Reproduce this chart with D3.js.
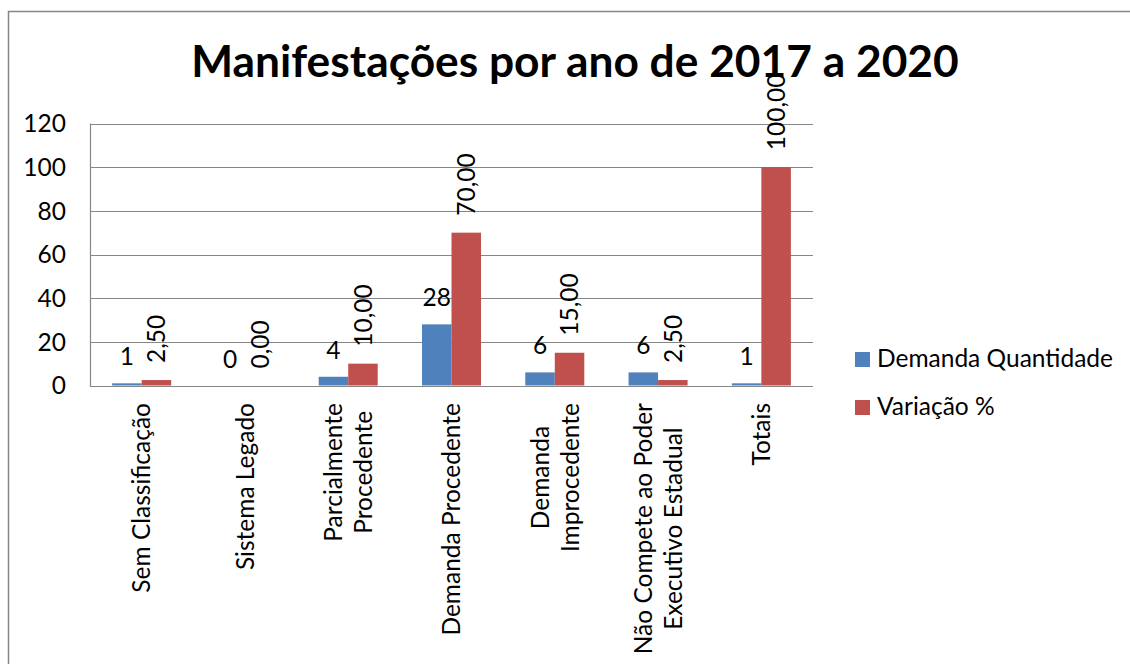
<!DOCTYPE html>
<html>
<head>
<meta charset="utf-8">
<script src="https://cdn.jsdelivr.net/npm/d3@7"></script>
<style>
  html, body { margin: 0; padding: 0; background: #fff; }
  svg { display: block; }
  text { font-family: Lato, "Open Sans", sans-serif; fill: #000; }
</style>
</head>
<body>
<svg id="chart" width="1130" height="664"></svg>
<script>
// Categories (multi-line labels split on "|")
const categories = [
  'Sem Classificação',
  'Sistema Legado',
  'Parcialmente|Procedente',
  'Demanda Procedente',
  'Demanda|Improcedente',
  'Não Compete ao Poder|Executivo Estadual',
  'Totais',
];
const seriesNames = ['Demanda Quantidade', 'Variação %'];
const quantidade = [1, 0, 4, 28, 6, 6, 1];
const variacao = [2.5, 0, 10, 70, 15, 2.5, 100];
const yTicks = [0, 20, 40, 60, 80, 100, 120];
const colors = ['#4F81BD', '#C0504D'];

const fontSize = '24.5px';
const svg = d3.select('#chart');

// Outer chart border
svg.append('rect')
  .attr('x', 8.5).attr('y', 11.5)
  .attr('width', 1140).attr('height', 700)
  .attr('fill', 'none')
  .attr('stroke', '#868686')
  .attr('stroke-width', 1.5);

// Title
svg.append('text')
  .attr('x', 575).attr('y', 77)
  .attr('text-anchor', 'middle')
  .style('font-weight', 'bold')
  .style('font-size', '44.3px')
  .text('Manifestações por ano de 2017 a 2020');

const plot = { left: 90, right: 813, top: 123.5, bottom: 385.5 };

const y = d3.scaleLinear().domain([0, 120]).range([plot.bottom, plot.top]);
const x0 = d3.scaleBand().domain(categories).range([plot.left, plot.right]).padding(0);
const bw = x0.bandwidth();
const gap = bw * 0.75 / 3.5;
const x1 = d3.scaleBand().domain(seriesNames).range([gap, bw - gap]).padding(0);

// Gridlines
svg.append('g')
  .selectAll('line')
  .data(yTicks)
  .join('line')
  .attr('x1', plot.left).attr('x2', plot.right)
  .attr('y1', d => Math.round(y(d)) + 0.5)
  .attr('y2', d => Math.round(y(d)) + 0.5)
  .attr('stroke', '#868686')
  .attr('stroke-width', 1.2);

// Y axis line
svg.append('line')
  .attr('x1', plot.left + 0.5).attr('x2', plot.left + 0.5)
  .attr('y1', plot.top).attr('y2', plot.bottom + 1)
  .attr('stroke', '#868686')
  .attr('stroke-width', 1.2);

// Y tick labels
svg.append('g')
  .selectAll('text')
  .data(yTicks)
  .join('text')
  .attr('x', 66)
  .attr('y', d => y(d))
  .attr('dy', '0.36em')
  .attr('text-anchor', 'end')
  .style('font-size', fontSize)
  .text(d => d);

const rows = categories.map((c, i) => ({ cat: c, vals: [quantidade[i], variacao[i]] }));

// Bars
const groups = svg.append('g')
  .selectAll('g')
  .data(rows)
  .join('g')
  .attr('transform', d => `translate(${x0(d.cat)},0)`);

groups.selectAll('rect')
  .data(d => d.vals.map((v, k) => ({ v, k })))
  .join('rect')
  .attr('x', d => x1(seriesNames[d.k]))
  .attr('y', d => y(d.v))
  .attr('width', x1.bandwidth())
  .attr('height', d => y(0) - y(d.v))
  .attr('fill', d => colors[d.k]);

// Blue data labels (horizontal)
groups.append('text')
  .attr('x', x1(seriesNames[0]) + x1.bandwidth() / 2)
  .attr('y', d => y(d.vals[0]) - 18)
  .attr('text-anchor', 'middle')
  .style('font-size', fontSize)
  .text(d => d.vals[0]);

// Red data labels (rotated)
const fmt = v => v.toFixed(2).replace('.', ',');
groups.append('text')
  .attr('transform', d => `translate(${x1(seriesNames[1]) + x1.bandwidth() / 2},${y(d.vals[1]) - 17}) rotate(-90)`)
  .attr('dy', '0.36em')
  .attr('text-anchor', 'start')
  .style('font-size', fontSize)
  .text(d => fmt(d.vals[1]));

// Category labels (rotated, lines centred on each other, top-aligned)
const labelTop = 403;
const lineGap = 30;
categories.forEach((c) => {
  const lines = c.split('|');
  const cx = x0(c) + bw / 2;
  const g = svg.append('g');
  const texts = lines.map(ln => g.append('text')
    .style('font-size', fontSize)
    .attr('text-anchor', 'middle')
    .text(ln));
  const maxLen = d3.max(texts, t => t.node().getComputedTextLength());
  const cy = labelTop + maxLen / 2;
  texts.forEach((t, j) => {
    const off = (j - (lines.length - 1) / 2) * lineGap;
    t.attr('transform', `translate(${cx + off},${cy}) rotate(-90)`)
      .attr('dy', '0.36em');
  });
});

// Legend
const legend = svg.append('g')
  .selectAll('g')
  .data(seriesNames)
  .join('g')
  .attr('transform', (d, i) => `translate(855,${352 + i * 48})`);

legend.append('rect')
  .attr('width', 15).attr('height', 15)
  .attr('fill', (d, i) => colors[i]);

legend.append('text')
  .attr('x', 22).attr('y', 15)
  .style('font-size', fontSize)
  .text(d => d);
</script>
</body>
</html>
